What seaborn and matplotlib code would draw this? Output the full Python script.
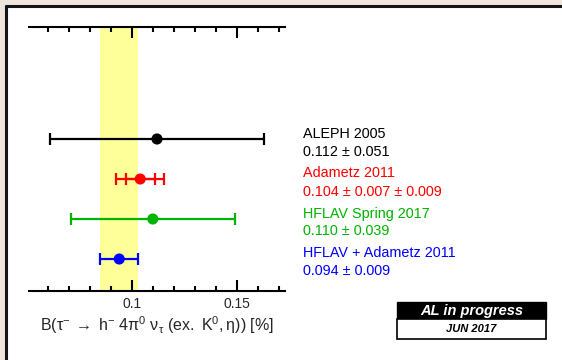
import matplotlib
matplotlib.use("Agg")
import matplotlib.pyplot as plt
from matplotlib.patches import Rectangle
from matplotlib.lines import Line2D
from matplotlib.ticker import MultipleLocator, FixedLocator
import seaborn as sns
import pandas as pd

# ---- data ----
labels = ["ALEPH 2005", "Adametz 2011", "HFLAV Spring 2017", "HFLAV + Adametz 2011"]
values = [0.112, 0.104, 0.110, 0.094]
stat_err = [0.051, 0.007, 0.039, 0.009]
syst_err = [0.0, 0.009, 0.0, 0.0]
value_texts = ["0.112 \u00b1 0.051", "0.104 \u00b1 0.007 \u00b1 0.009",
               "0.110 \u00b1 0.039", "0.094 \u00b1 0.009"]
rows = [4, 3, 2, 1]
colors = ["#000000", "#ff0000", "#00b400", "#0000ff"]
band_center = 0.094
band_err = 0.009
major_ticks = [0.1, 0.15]
major_tick_labels = ["0.1", "0.15"]

sns.set_style("white")
plt.rcParams["font.family"] = ["Liberation Sans", "DejaVu Sans"]
plt.rcParams["mathtext.fontset"] = "custom"
plt.rcParams["mathtext.rm"] = "Liberation Sans"
plt.rcParams["mathtext.it"] = "Liberation Sans:italic"
plt.rcParams["mathtext.sf"] = "Liberation Sans"
plt.rcParams["mathtext.default"] = "regular"

W, H = 562, 360
fig = plt.figure(figsize=(W / 100, H / 100), dpi=100)
fig.patch.set_facecolor("#ece6dc")

def fx(px):
    return px / W

def fy(py):
    return (H - py) / H

# white canvas with dark left/top border
fig.add_artist(Rectangle((fx(6), 0), 1 - fx(6), fy(6), transform=fig.transFigure,
                         facecolor="white", edgecolor="none", zorder=-10))
fig.add_artist(Line2D([fx(6), fx(6)], [0, fy(6)], transform=fig.transFigure,
                      color="#151515", lw=2.2))
fig.add_artist(Line2D([fx(6), 1], [fy(6), fy(6)], transform=fig.transFigure,
                      color="#151515", lw=2.2))

ax = fig.add_axes([fx(29), fy(291), fx(285) - fx(29), fy(27) - fy(291)])
ax.set_facecolor("none")

df = pd.DataFrame({"label": labels, "value": values, "stat": stat_err,
                   "syst": syst_err, "row": rows})
df["total"] = (df["stat"] ** 2 + df["syst"] ** 2) ** 0.5

ax.axvspan(band_center - band_err, band_center + band_err, color="#ffff99", zorder=0, lw=0)

for i, r in df.iterrows():
    ax.errorbar(r["value"], r["row"], xerr=r["total"], fmt="none", ecolor=colors[i],
                elinewidth=1.6, capsize=4.3, capthick=1.6, zorder=2)
    if r["syst"] > 0:
        ax.errorbar(r["value"], r["row"], xerr=r["stat"], fmt="none", ecolor=colors[i],
                    elinewidth=1.6, capsize=4.3, capthick=1.6, zorder=2)

sns.scatterplot(data=df, x="value", y="row", hue="label", palette=colors,
                s=64, edgecolor="none", legend=False, ax=ax, zorder=3)

ax.set_xlim(0.051, 0.173)
ax.set_ylim(0.2, 6.8)
ax.set_yticks([])
ax.set_ylabel("")
ax.set_xlabel("")
for s in ["left", "right"]:
    ax.spines[s].set_visible(False)
for s in ["top", "bottom"]:
    ax.spines[s].set_visible(True)
    ax.spines[s].set_linewidth(1.5)
    ax.spines[s].set_color("black")

ax.xaxis.set_major_locator(FixedLocator(major_ticks))
ax.set_xticklabels(major_tick_labels)
ax.xaxis.set_minor_locator(MultipleLocator(0.01))
ax.tick_params(axis="x", which="both", direction="in", top=True, bottom=True,
               labelsize=10, pad=4, color="black", width=1.5)
ax.tick_params(axis="x", which="major", length=8)
ax.tick_params(axis="x", which="minor", length=3.8)

xlabel = r"$B(\tau^{-}\;\rightarrow\;h^{-}\ 4\pi^{0}\ \nu_{\tau}\ (ex.\ K^{0},\eta))\ [\%]$"
fig.text(fx(157), fy(325), xlabel, ha="center", va="center", fontsize=11.5)

name_y = [134, 173, 214, 253]
val_y = [152, 192, 231, 271]
for i in range(len(labels)):
    fig.text(fx(303), fy(name_y[i]), labels[i], color=colors[i], fontsize=10.4,
             ha="left", va="center")
    fig.text(fx(303), fy(val_y[i]), value_texts[i], color=colors[i], fontsize=10.4,
             ha="left", va="center")

# badge
fig.add_artist(Rectangle((fx(397), fy(319)), fx(546) - fx(397), fy(302) - fy(319),
                         transform=fig.transFigure, facecolor="black", edgecolor="black", lw=1))
fig.add_artist(Rectangle((fx(397), fy(339)), fx(546) - fx(397), fy(319) - fy(339),
                         transform=fig.transFigure, facecolor="white", edgecolor="black", lw=1.2))
fig.text(fx(471.5), fy(310.5), "AL in progress", color="white", fontsize=10.5,
         fontweight="bold", fontstyle="italic", ha="center", va="center")
fig.text(fx(471.5), fy(329.5), "JUN 2017", color="black", fontsize=8,
         fontweight="bold", fontstyle="italic", ha="center", va="center")

fig.savefig("out.png", dpi=100, facecolor=fig.get_facecolor())
